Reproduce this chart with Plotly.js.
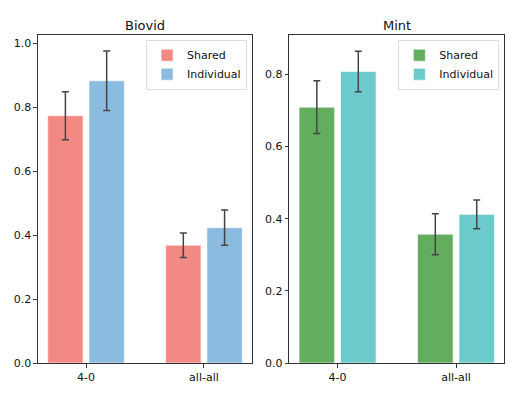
<!DOCTYPE html>
<html>
<head>
<meta charset="utf-8">
<script src="https://cdn.plot.ly/plotly-3.0.1.min.js"></script>
<style>html,body{margin:0;padding:0;background:#fff;}#chart{width:524px;height:397px;}</style>
</head>
<body>
<div id="chart"></div>
<script>
const categories = ["4-0", "all-all"];
const catIndex = [0, 1];
const biovidShared = [0.773, 0.368];
const biovidSharedErr = [0.075, 0.038];
const biovidIndividual = [0.882, 0.423];
const biovidIndividualErr = [0.093, 0.055];
const mintShared = [0.709, 0.357];
const mintSharedErr = [0.073, 0.057];
const mintIndividual = [0.808, 0.412];
const mintIndividualErr = [0.056, 0.040];
const seriesNames = ["Shared", "Individual"];
const panelTitles = ["Biovid", "Mint"];

const font = {family: "DejaVu Sans, sans-serif", size: 11, color: "#111"};
function errObj(arr) {
  return {type: "data", array: arr, visible: true, color: "#444", thickness: 1.5, width: 3.5};
}
function bar(y, err, name, color, xa, ya, offset, legend) {
  return {
    type: "bar", x: catIndex, y: y, name: name, width: 0.3, offset: offset,
    marker: {color: color, line: {color: "rgba(255,255,255,0.6)", width: 1}},
    error_y: errObj(err), xaxis: xa, yaxis: ya, legend: legend
  };
}
const data = [
  bar(biovidShared, biovidSharedErr, seriesNames[0], "#F28A83", "x", "y", -0.325, "legend"),
  bar(biovidIndividual, biovidIndividualErr, seriesNames[1], "#8BBCE0", "x", "y", 0.025, "legend"),
  bar(mintShared, mintSharedErr, seriesNames[0], "#63AE5E", "x2", "y2", -0.325, "legend2"),
  bar(mintIndividual, mintIndividualErr, seriesNames[1], "#6DCBCC", "x2", "y2", 0.025, "legend2")
];
function xax(domain, anchor) {
  return {domain: domain, anchor: anchor, range: [-0.4075, 1.4075], tickvals: catIndex, ticktext: categories,
    showline: true, mirror: true, linecolor: "#333", linewidth: 1, ticks: "outside", ticklen: 3.5,
    tickcolor: "#333", showgrid: false, zeroline: false, tickfont: font};
}
function yax(range, anchor, dtick) {
  return {domain: [0.0856, 0.9118], anchor: anchor, range: range, dtick: dtick, tickformat: ".1f",
    showline: true, mirror: true, linecolor: "#333", linewidth: 1, ticks: "outside", ticklen: 3.5,
    tickcolor: "#333", showgrid: false, zeroline: false, tickfont: font};
}
function leg(xr) {
  return {x: xr, y: 0.9, xanchor: "right", yanchor: "top", bgcolor: "rgba(255,255,255,0.8)",
    bordercolor: "#ddd", borderwidth: 1, font: font, traceorder: "normal", itemwidth: 30, tracegroupgap: 0};
}
const titleFont = {family: "DejaVu Sans, sans-serif", size: 13, color: "#111"};
const layout = {
  width: 524, height: 397, margin: {l: 0, r: 0, t: 0, b: 0},
  paper_bgcolor: "#fff", plot_bgcolor: "#fff", font: font, bargap: 0,
  xaxis: xax([0.0725, 0.4809], "y"),
  yaxis: yax([0, 1.025], "x", 0.2),
  xaxis2: xax([0.5521, 0.9624], "y2"),
  yaxis2: yax([0, 0.909], "x2", 0.2),
  legend: leg(0.4715),
  legend2: leg(0.953),
  annotations: [
    {text: panelTitles[0], xref: "paper", yref: "paper", x: (0.0725 + 0.4809) / 2, y: 0.937, showarrow: false,
     xanchor: "center", yanchor: "middle", font: titleFont},
    {text: panelTitles[1], xref: "paper", yref: "paper", x: (0.5521 + 0.9624) / 2, y: 0.937, showarrow: false,
     xanchor: "center", yanchor: "middle", font: titleFont}
  ]
};
Plotly.newPlot("chart", data, layout, {displayModeBar: false, staticPlot: true});
</script>
</body>
</html>
